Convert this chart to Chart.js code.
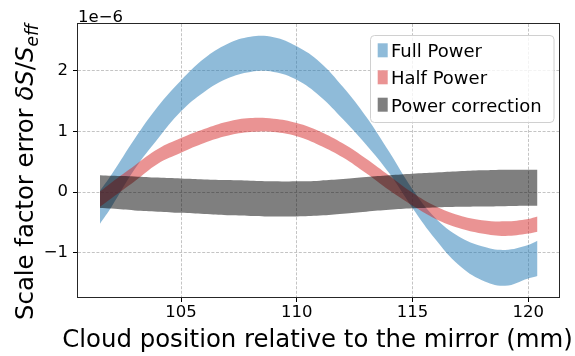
<!DOCTYPE html>
<html>
<head>
<meta charset="utf-8">
<script src="https://cdn.jsdelivr.net/npm/chart.js@4.4.0/dist/chart.umd.min.js"></script>
<style>
html, body { margin: 0; padding: 0; background: #fff; }
#wrap { width: 575px; height: 356px; position: relative; }
</style>
</head>
<body>
<div id="wrap"><canvas id="chart"></canvas></div>
<script>
// cloud position (mm)
const xPos = [101.5, 102, 103, 104, 105, 106, 107, 108, 109, 110,
              111, 112, 113, 114, 115, 116, 117, 118, 119, 120, 120.4];

// scale factor error, units of 1e-6 (band edges)
const fullUpper = [0.02, 0.29, 0.88, 1.41, 1.84, 2.20, 2.44, 2.56, 2.55, 2.40,
                   2.14, 1.73, 1.24, 0.66, 0.05, -0.43, -0.73, -0.89, -0.95, -0.87, -0.80];
const fullLower = [-0.52, -0.24, 0.38, 0.88, 1.33, 1.65, 1.87, 1.98, 1.98, 1.85,
                   1.58, 1.20, 0.78, 0.31, -0.26, -0.78, -1.20, -1.45, -1.54, -1.42, -1.38];
const halfUpper = [0.01, 0.16, 0.44, 0.71, 0.89, 1.04, 1.16, 1.22, 1.21, 1.14,
                   1.00, 0.80, 0.55, 0.27, -0.01, -0.23, -0.38, -0.46, -0.48, -0.44, -0.40];
const halfLower = [-0.24, -0.10, 0.18, 0.47, 0.65, 0.81, 0.93, 0.99, 0.99, 0.92,
                   0.77, 0.57, 0.31, 0.03, -0.22, -0.44, -0.59, -0.68, -0.72, -0.68, -0.65];
const corrUpper = [0.28, 0.27, 0.26, 0.24, 0.225, 0.21, 0.20, 0.19, 0.18, 0.178,
                   0.19, 0.215, 0.25, 0.28, 0.305, 0.325, 0.345, 0.36, 0.37, 0.37, 0.37];
const corrLower = [-0.26, -0.27, -0.30, -0.32, -0.34, -0.36, -0.38, -0.39, -0.40, -0.40,
                   -0.385, -0.355, -0.32, -0.29, -0.265, -0.25, -0.24, -0.235, -0.23, -0.225, -0.225];

const seriesNames = ['Full Power', 'Half Power', 'Power correction'];
const seriesColors = ['rgba(31,119,180,0.5)', 'rgba(214,39,40,0.5)', 'rgba(0,0,0,0.5)'];

const xTicks = [105, 110, 115, 120];
const yTicks = [-1, 0, 1, 2];

const FONT = '"DejaVu Sans", sans-serif';

function pts(ys) {
    return xPos.map((x, i) => ({x: x, y: ys[i]}));
}

function band(name, upper, lower, color, order) {
    return [
        {label: name, data: pts(upper), fill: '+1', backgroundColor: color,
         borderColor: 'transparent', borderWidth: 0, pointRadius: 0, order: order, tension: 0.4},
        {label: '', data: pts(lower), fill: false, backgroundColor: color,
         borderColor: 'transparent', borderWidth: 0, pointRadius: 0, order: order, tension: 0.4}
    ];
}

const decorations = {
    id: 'decorations',
    afterDraw(chart) {
        const ctx = chart.ctx;
        const a = chart.chartArea;
        ctx.save();

        // axes frame
        ctx.strokeStyle = '#262626';
        ctx.lineWidth = 1;
        ctx.strokeRect(Math.round(a.left) - 0.5, Math.round(a.top) - 0.5,
                       Math.round(a.right - a.left) + 1, Math.round(a.bottom - a.top) + 1);

        // offset text
        ctx.fillStyle = '#000';
        ctx.textBaseline = 'alphabetic';
        ctx.textAlign = 'left';
        ctx.font = '16.5px ' + FONT;
        ctx.fillText('1e\u22126', a.left, 21.5);

        // x label
        ctx.textAlign = 'center';
        ctx.font = '24.4px ' + FONT;
        ctx.fillText('Cloud position relative to the mirror (mm)', (a.left + a.right) / 2 - 1, 346.5);

        // y label with math part
        ctx.save();
        ctx.translate(32.5, 320);
        ctx.rotate(-Math.PI / 2);
        ctx.textAlign = 'left';
        let x = 0;
        const seg = (t, font, dy) => {
            ctx.font = font;
            ctx.fillText(t, x, dy);
            x += ctx.measureText(t).width;
        };
        seg('Scale factor error ', '24.4px ' + FONT, 0);
        seg('\u03B4S', 'italic 24.4px ' + FONT, 0);
        seg('/', '24.4px ' + FONT, 0);
        seg('S', 'italic 24.4px ' + FONT, 0);
        seg('eff', 'italic 17px ' + FONT, 5);
        ctx.restore();

        // legend
        const lx = 370.5, ly = 35.5, lw = 183.5, lh = 87;
        ctx.beginPath();
        ctx.roundRect(lx, ly, lw, lh, 4);
        ctx.fillStyle = 'rgba(255,255,255,0.8)';
        ctx.fill();
        ctx.strokeStyle = '#d0d0d0';
        ctx.stroke();
        ctx.font = '18px ' + FONT;
        ctx.textAlign = 'left';
        const rows = [57.3, 84.3, 111.7];
        seriesNames.forEach((n, i) => {
            ctx.fillStyle = seriesColors[i];
            ctx.fillRect(377.7, rows[i] - 14, 10, 14);
            ctx.fillStyle = '#000';
            ctx.fillText(n, 391, rows[i]);
        });
        ctx.restore();
    }
};

new Chart(document.getElementById('chart'), {
    type: 'line',
    data: {
        datasets: [
            ...band(seriesNames[0], fullUpper, fullLower, seriesColors[0], 3),
            ...band(seriesNames[1], halfUpper, halfLower, seriesColors[1], 2),
            ...band(seriesNames[2], corrUpper, corrLower, seriesColors[2], 1)
        ]
    },
    options: {
        responsive: true,
        maintainAspectRatio: false,
        animation: false,
        events: [],
        layout: {padding: {top: 24, right: 16, left: 0, bottom: 0}},
        plugins: {
            legend: {display: false},
            tooltip: {enabled: false},
            filler: {propagate: false}
        },
        scales: {
            x: {
                type: 'linear',
                min: 100.55,
                max: 121.33,
                z: 1,
                afterFit: (s) => { s.height = 59; },
                afterBuildTicks: (s) => { s.ticks = xTicks.map(v => ({value: v})); },
                grid: {color: '#c4c4c4', lineWidth: 1, tickLength: 5, tickColor: '#000', tickWidth: 1},
                border: {display: false, dash: [3, 1.6]},
                ticks: {
                    color: '#000', padding: 1, maxRotation: 0, autoSkip: false,
                    font: {family: FONT, size: 16.5},
                    callback: (v) => String(v)
                }
            },
            y: {
                type: 'linear',
                min: -1.725,
                max: 2.768,
                z: 1,
                afterFit: (s) => { s.width = 78; },
                afterBuildTicks: (s) => { s.ticks = yTicks.map(v => ({value: v})); },
                grid: {color: '#c4c4c4', lineWidth: 1, tickLength: 5, tickColor: '#000', tickWidth: 1},
                border: {display: false, dash: [3, 1.6]},
                ticks: {
                    color: '#000', padding: 5, autoSkip: false,
                    font: {family: FONT, size: 16.5},
                    callback: (v) => (v < 0 ? '\u2212' : '') + Math.abs(v)
                }
            }
        }
    },
    plugins: [decorations]
});
</script>
</body>
</html>
